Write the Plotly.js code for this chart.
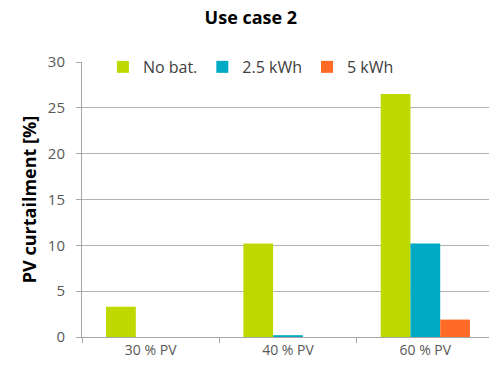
<!DOCTYPE html>
<html>
<head>
<meta charset="utf-8">
<script src="https://cdn.plot.ly/plotly-3.0.1.min.js"></script>
<style>
  html, body { margin: 0; padding: 0; background: #fff; }
  #chart { width: 489px; height: 372px; }
</style>
</head>
<body>
<div id="chart"></div>
<script>
// PV curtailment by installed PV share, for three battery sizes
const categories = ["30 % PV", "40 % PV", "60 % PV"];
const seriesNames = ["No bat.", "2.5 kWh", "5 kWh"];
const noBattery = [3.3, 10.2, 26.5];
const battery25 = [0, 0.2, 10.2];
const battery5 = [0, 0, 1.9];
const seriesColors = ["#bfd900", "#00a9c4", "#ff6b27"];
const yTicks = [0, 5, 10, 15, 20, 25, 30];

const font = "Open Sans, sans-serif";
const values = [noBattery, battery25, battery5];

const traces = values.map((v, i) => ({
  type: "bar",
  name: seriesNames[i],
  x: categories,
  y: v,
  marker: { color: seriesColors[i], line: { width: 0 } },
  hoverinfo: "skip"
}));

const layout = {
  width: 489,
  height: 372,
  margin: { l: 82, r: 0, t: 62, b: 35 },
  paper_bgcolor: "#ffffff",
  plot_bgcolor: "#ffffff",
  barmode: "group",
  bargap: 0.35,
  bargroupgap: 0,
  font: { family: font, size: 14, color: "#595959" },
  title: {
    text: "Use case 2",
    font: { family: font, size: 18, color: "#000000", weight: "bold" },
    xref: "container",
    x: 0.513,
    xanchor: "center",
    yref: "container",
    y: 0.952,
    yanchor: "middle"
  },
  showlegend: true,
  legend: {
    orientation: "h",
    xref: "paper",
    x: 0.415,
    xanchor: "center",
    yref: "paper",
    y: 0.982,
    yanchor: "middle",
    bgcolor: "#ffffff",
    font: { family: font, size: 16, color: "#404040" },
    itemwidth: 30,
    traceorder: "normal"
  },
  xaxis: {
    type: "category",
    range: [-0.5, 2.4636],
    showgrid: false,
    showline: true,
    linecolor: "#a6a6a6",
    linewidth: 1,
    ticks: "outside",
    tickson: "boundaries",
    ticklen: 5,
    tickcolor: "#a6a6a6",
    tickfont: { family: font, size: 14, color: "#595959" },
    zeroline: false,
    fixedrange: true
  },
  yaxis: {
    range: [0, 30],
    tickvals: yTicks,
    showgrid: true,
    gridcolor: "#b3b3b3",
    gridwidth: 1,
    showline: true,
    linecolor: "#a6a6a6",
    ticks: "outside",
    ticklen: 5,
    tickcolor: "#a6a6a6",
    ticklabelstandoff: 8,
    zeroline: false,
    tickfont: { family: font, size: 15, color: "#595959" },
    title: {
      text: "PV curtailment [%]",
      font: { family: font, size: 18, color: "#000000", weight: "bold" },
      standoff: 6
    },
    fixedrange: true
  }
};

Plotly.newPlot("chart", traces, layout, { displayModeBar: false, staticPlot: true });
</script>
</body>
</html>
